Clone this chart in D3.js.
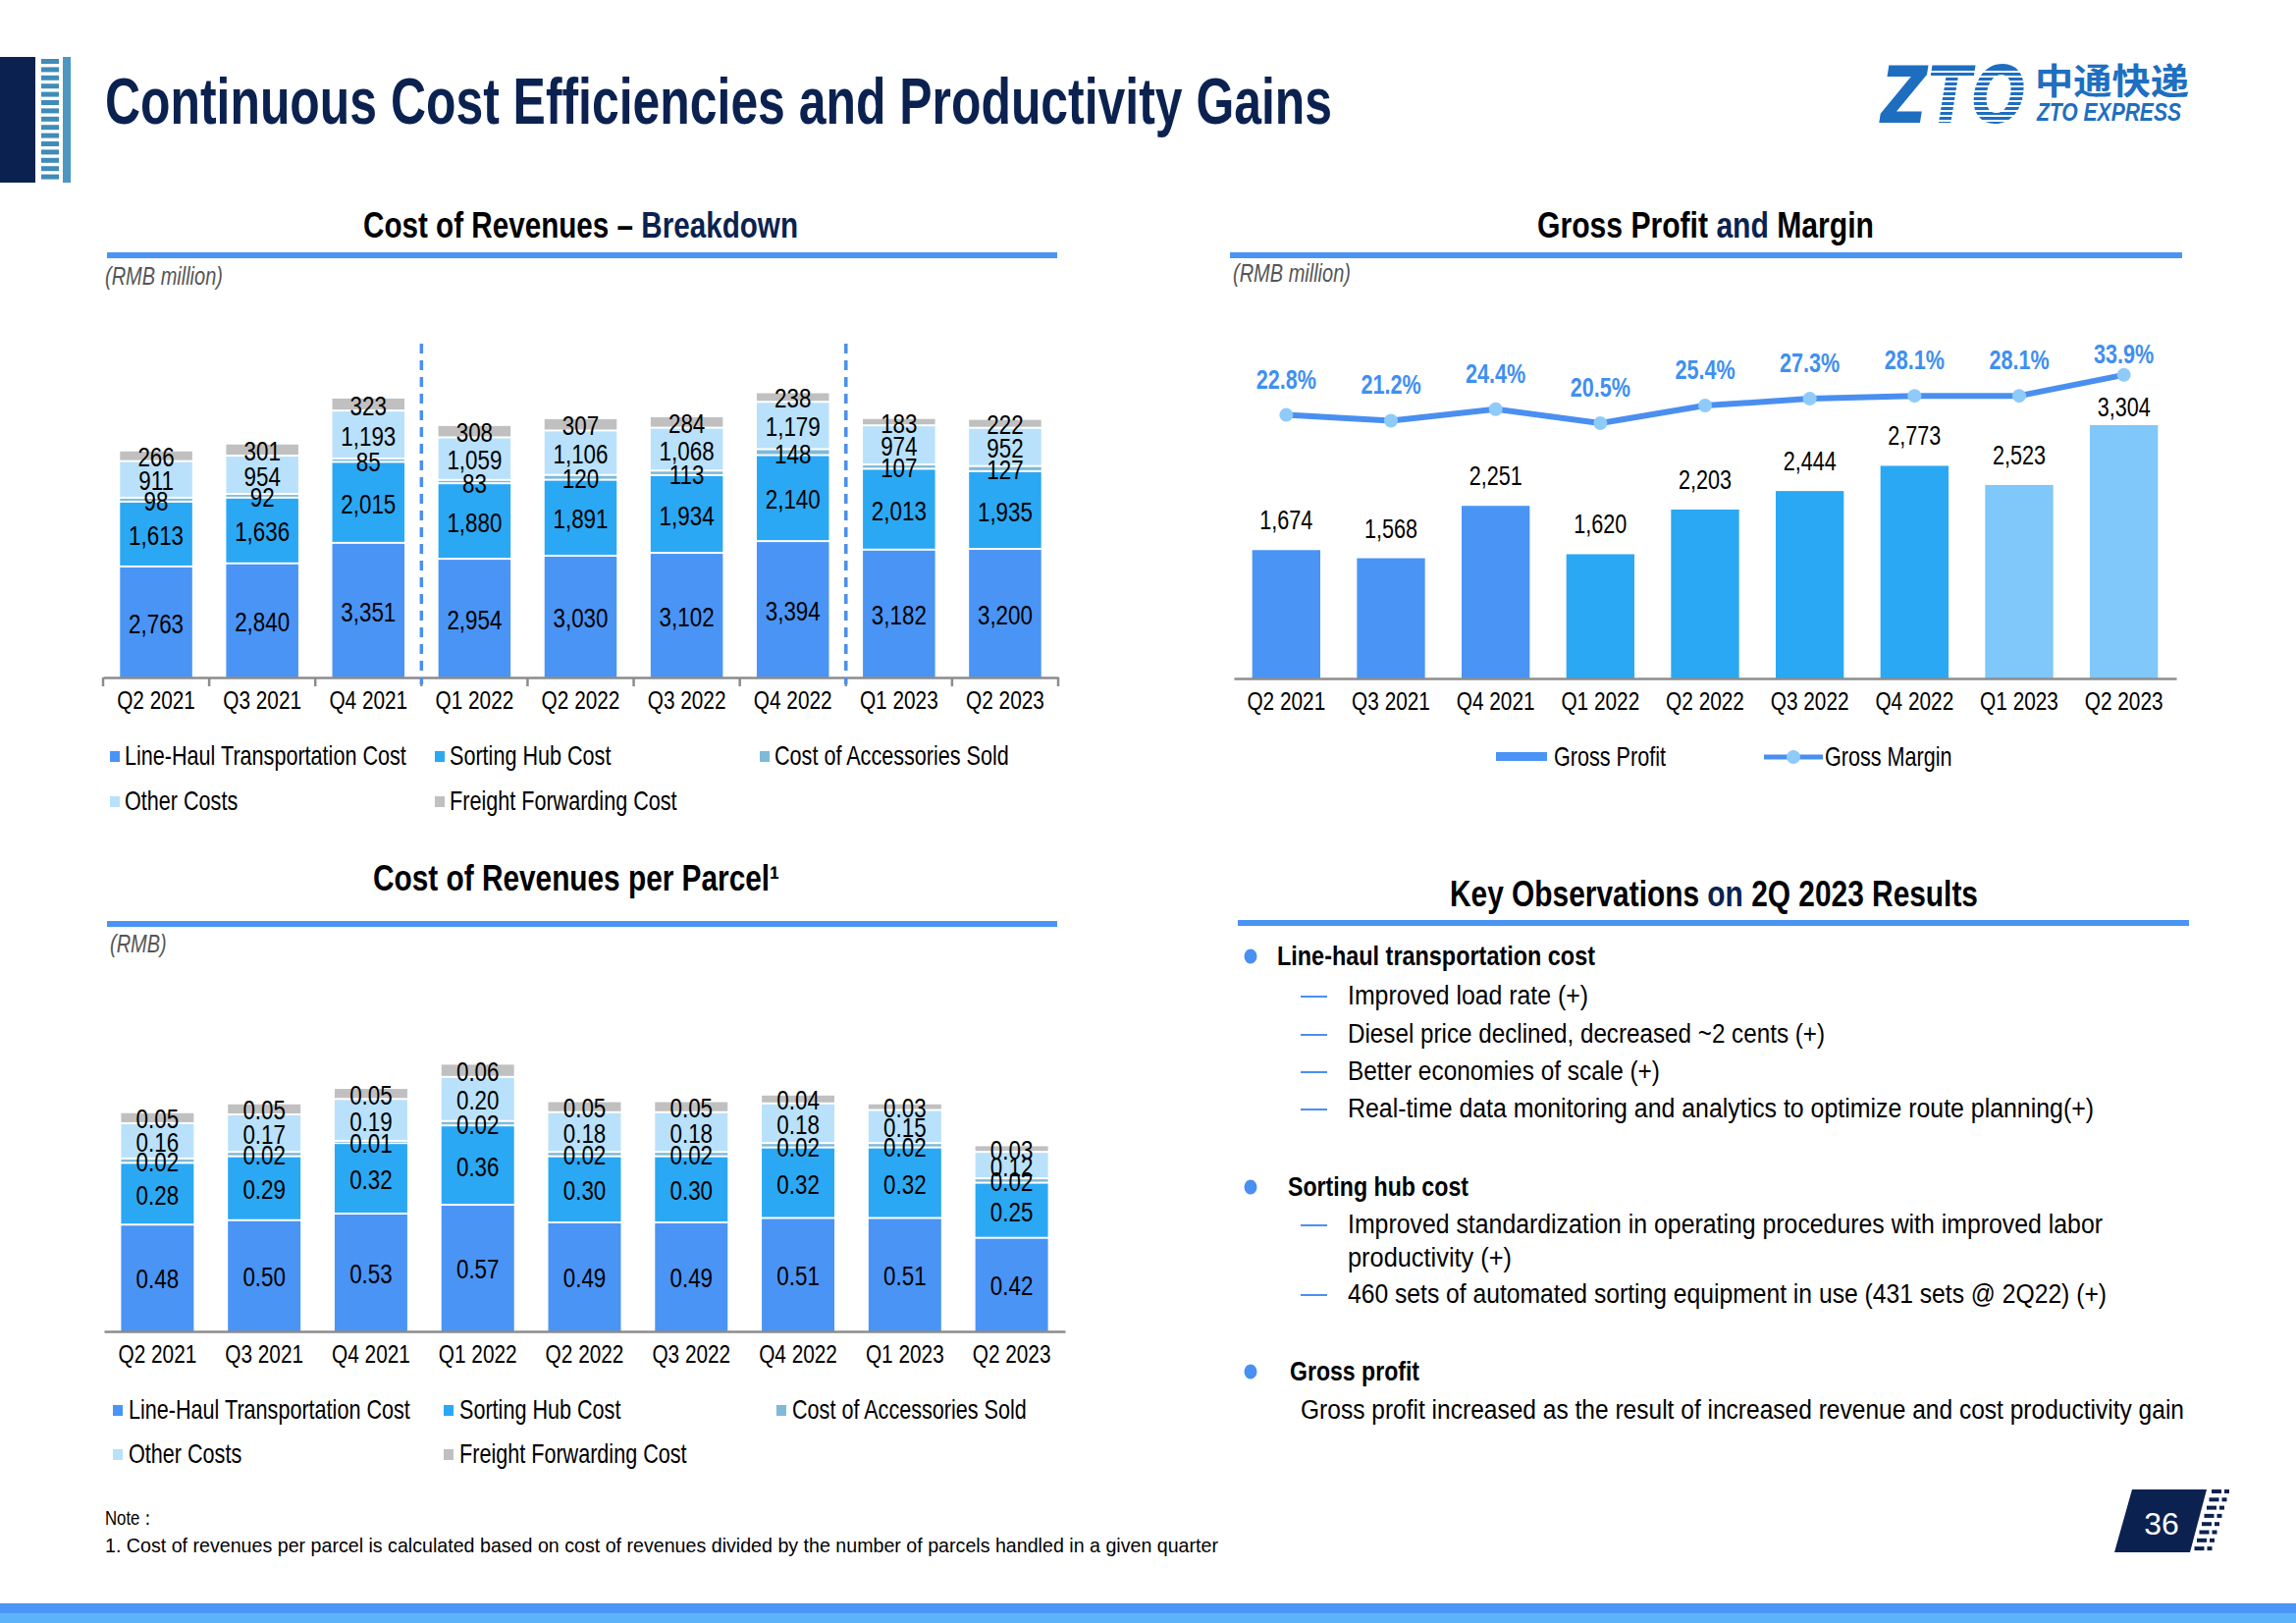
<!DOCTYPE html>
<html>
<head>
<meta charset="utf-8">
<script src="https://cdn.jsdelivr.net/npm/d3@7"></script>
<style>html,body{margin:0;padding:0;background:#fff;}</style>
</head>
<body>
<script>
// ---- data ----
const quarters = ["Q2 2021", "Q3 2021", "Q4 2021", "Q1 2022", "Q2 2022", "Q3 2022", "Q4 2022", "Q1 2023", "Q2 2023"];

const seriesKeys = ["lineHaul", "sortingHub", "accessories", "otherCosts", "freight"];
const seriesNames = ["Line-Haul Transportation Cost", "Sorting Hub Cost", "Cost of Accessories Sold", "Other Costs", "Freight Forwarding Cost"];

// cost of revenues, RMB million
const lineHaul = [2763, 2840, 3351, 2954, 3030, 3102, 3394, 3182, 3200];
const sortingHub = [1613, 1636, 2015, 1880, 1891, 1934, 2140, 2013, 1935];
const accessories = [98, 92, 85, 83, 120, 113, 148, 107, 127];
const otherCosts = [911, 954, 1193, 1059, 1106, 1068, 1179, 974, 952];
const freight = [266, 301, 323, 308, 307, 284, 238, 183, 222];

// cost of revenues per parcel, RMB
const lineHaulPP = [0.48, 0.50, 0.53, 0.57, 0.49, 0.49, 0.51, 0.51, 0.42];
const sortingHubPP = [0.28, 0.29, 0.32, 0.36, 0.30, 0.30, 0.32, 0.32, 0.25];
const accessoriesPP = [0.02, 0.02, 0.01, 0.02, 0.02, 0.02, 0.02, 0.02, 0.02];
const otherCostsPP = [0.16, 0.17, 0.19, 0.20, 0.18, 0.18, 0.18, 0.15, 0.12];
const freightPP = [0.05, 0.05, 0.05, 0.06, 0.05, 0.05, 0.04, 0.03, 0.03];

// gross profit (RMB million) and margin (%)
const grossProfit = [1674, 1568, 2251, 1620, 2203, 2444, 2773, 2523, 3304];
const grossMargin = [22.8, 21.2, 24.4, 20.5, 25.4, 27.3, 28.1, 28.1, 33.9];

const periodBreaks = ["Q1 2022", "Q1 2023"];

// ---- setup ----
const W = 2339, H = 1653;
const FONT = '"Liberation Sans", Arial, sans-serif';
const NARROW = 0.8; // Liberation Sans squeezed to an Arial Narrow look
const NAVY = "#0b2250", BLUE = "#4a94f5";
const seriesColors = ["#4a94f5", "#2ba8f3", "#7fbad9", "#b9e1fb", "#c0c0c0"];
const yearColor = {"2021": "#4a94f5", "2022": "#2ba8f3", "2023": "#80c7fa"};

const svg = d3.select("body").append("svg")
    .attr("width", W).attr("height", H)
    .attr("viewBox", [0, 0, W, H])
    .style("font-family", FONT);

svg.append("rect").attr("width", W).attr("height", H).attr("fill", "#fff");

function txt(g, x, y, s, o = {}) {
  const t = g.append("text")
      .attr("x", x).attr("y", y)
      .attr("font-size", o.size || 24)
      .attr("font-weight", o.weight || null)
      .attr("font-style", o.italic ? "italic" : null)
      .attr("font-family", o.family || null)
      .attr("fill", o.fill || "#000")
      .attr("text-anchor", o.anchor || "start")
      .text(s);
  if (o.width) t.attr("textLength", o.width).attr("lengthAdjust", "spacingAndGlyphs");
  if (o.wide) t.classed("wide", true);
  return t;
}

function heading(x, y, parts, width, size) {
  const t = svg.append("text")
      .attr("x", x).attr("y", y)
      .attr("font-size", size)
      .attr("font-weight", "bold")
      .attr("textLength", width).attr("lengthAdjust", "spacingAndGlyphs");
  parts.forEach(([s, c]) => t.append("tspan").attr("fill", c).text(s));
}

// ---- page header ----
svg.append("rect").attr("x", 0).attr("y", 58).attr("width", 36).attr("height", 128).attr("fill", NAVY);
svg.append("g").attr("fill", "#3f8cb9")
  .selectAll("rect").data(d3.range(15)).join("rect")
    .attr("x", 42).attr("y", i => 60 + i * 8.4).attr("width", 18).attr("height", 5);
svg.append("rect").attr("x", 64).attr("y", 58).attr("width", 8).attr("height", 128).attr("fill", "#4b97c2");

txt(svg, 107, 126, "Continuous Cost Efficiencies and Productivity Gains",
    {size: 66, weight: "bold", fill: NAVY, width: 1250});

// logo
const logo = svg.append("g");
txt(logo, 1916, 125, "ZTO", {size: 80, weight: "bold", italic: true, family: "DejaVu Sans", fill: "#1e6ec0", width: 148});
logo.append("g").attr("stroke", "#fff").attr("stroke-width", 2)
  .selectAll("line").data(d3.range(11)).join("line")
    .attr("x1", 1966).attr("x2", 2066)
    .attr("y1", i => 73 + i * 5).attr("y2", i => 73 + i * 5);
txt(logo, 2073, 96, "中通快递", {size: 36, weight: "bold", family: "Noto Sans CJK SC", fill: "#1f6fc0", width: 157});
txt(logo, 2075, 123, "ZTO EXPRESS", {size: 26, weight: "bold", italic: true, fill: "#1f6fc0", width: 147});

// ---- section titles ----
heading(370, 242, [["Cost of Revenues – ", "#000"], ["Breakdown", NAVY]], 443, 36);
svg.append("rect").attr("x", 109).attr("y", 257).attr("width", 968).attr("height", 6).attr("fill", BLUE);
txt(svg, 107, 290, "(RMB million)", {size: 25, italic: true, fill: "#555"});

heading(1566, 242, [["Gross Profit ", "#000"], ["and", NAVY], [" Margin", "#000"]], 343, 36);
svg.append("rect").attr("x", 1253).attr("y", 257).attr("width", 970).attr("height", 6).attr("fill", BLUE);
txt(svg, 1256, 287, "(RMB million)", {size: 25, italic: true, fill: "#555"});

heading(380, 907, [["Cost of Revenues per Parcel¹", "#000"]], 414, 36);
svg.append("rect").attr("x", 109).attr("y", 938).attr("width", 968).attr("height", 6).attr("fill", BLUE);
txt(svg, 112, 970, "(RMB)", {size: 25, italic: true, fill: "#555"});

heading(1477, 923, [["Key Observations ", "#000"], ["on", NAVY], [" 2Q 2023 Results", "#000"]], 538, 36);
svg.append("rect").attr("x", 1261).attr("y", 937).attr("width", 969).attr("height", 6).attr("fill", BLUE);

// ---- stacked bar charts ----
function stackedChart({table, x, y, fmt, axisY, boundaryTicks, breaks, breakTop}) {
  const g = svg.append("g");
  const layers = d3.stack().keys(seriesKeys)(table);
  const gap = 2;

  layers.forEach((layer, li) => {
    g.append("g").attr("fill", seriesColors[li])
      .selectAll("rect").data(layer).join("rect")
        .attr("x", d => x(d.data.q))
        .attr("width", x.bandwidth())
        .attr("y", d => y(d[1]))
        .attr("height", d => Math.max(0.8, y(d[0]) - y(d[1]) - (li ? gap : 0)));
  });

  layers.forEach(layer => {
    g.append("g").attr("font-size", 28).attr("text-anchor", "middle")
      .selectAll("text").data(layer).join("text")
        .attr("x", d => x(d.data.q) + x.bandwidth() / 2)
        .attr("y", d => (y(d[0]) + y(d[1])) / 2)
        .attr("dy", "0.36em")
        .text(d => fmt(d.data[layer.key]));
  });

  const ax = g.append("g")
      .attr("transform", `translate(0,${axisY})`)
      .call(d3.axisBottom(x).tickSize(0).tickSizeOuter(0).tickPadding(14));
  ax.attr("font-family", FONT).attr("font-size", 26);
  ax.select(".domain").attr("stroke", "#8c8c8c").attr("stroke-width", 2.5);
  ax.selectAll("text").attr("fill", "#000");

  const edge = q => x(q) - (x.step() - x.bandwidth()) / 2;
  if (boundaryTicks) {
    const x0 = edge(quarters[0]);
    g.append("g").attr("stroke", "#8c8c8c").attr("stroke-width", 2.5)
      .selectAll("line").data(d3.range(quarters.length + 1)).join("line")
        .attr("x1", i => x0 + i * x.step()).attr("x2", i => x0 + i * x.step())
        .attr("y1", axisY).attr("y2", axisY + 9);
  }
  if (breaks) {
    g.append("g").attr("stroke", "#4a8ff0").attr("stroke-width", 3.5).attr("stroke-dasharray", "10,7")
      .selectAll("line").data(breaks).join("line")
        .attr("x1", d => edge(d)).attr("x2", d => edge(d))
        .attr("y1", breakTop).attr("y2", axisY + 7);
  }
}

const costTable = quarters.map((q, i) => ({
  q, lineHaul: lineHaul[i], sortingHub: sortingHub[i], accessories: accessories[i],
  otherCosts: otherCosts[i], freight: freight[i]
}));
const perParcelTable = quarters.map((q, i) => ({
  q, lineHaul: lineHaulPP[i], sortingHub: sortingHubPP[i], accessories: accessoriesPP[i],
  otherCosts: otherCostsPP[i], freight: freightPP[i]
}));

const xCost = d3.scaleBand().domain(quarters).range([105, 1078]).paddingInner(0.32).paddingOuter(0.16);
const yCost = d3.scaleLinear().domain([0, 7100]).range([691, 691 - 7100 * 0.04092]);
stackedChart({table: costTable, x: xCost, y: yCost, fmt: d3.format(","), axisY: 690,
  boundaryTicks: true, breaks: periodBreaks, breakTop: 350});

const xPP = d3.scaleBand().domain(quarters).range([106, 1085]).paddingInner(0.32).paddingOuter(0.16);
const yPP = d3.scaleLinear().domain([0, 1.25]).range([1356, 1356 - 1.25 * 224.5]);
stackedChart({table: perParcelTable, x: xPP, y: yPP, fmt: d3.format(".2f"), axisY: 1356,
  boundaryTicks: false});

// legends for stacked charts
function stackLegend(cols, rows, markerOffset) {
  const pos = [[0, 0], [1, 0], [2, 0], [0, 1], [1, 1]];
  const g = svg.append("g").attr("font-size", 27);
  seriesNames.forEach((name, i) => {
    const [c, r] = pos[i];
    g.append("rect").attr("x", cols[c]).attr("y", rows[r] - 14).attr("width", 10).attr("height", 11)
      .attr("fill", seriesColors[i]);
    g.append("text").attr("x", cols[c] + markerOffset).attr("y", rows[r]).text(name);
  });
}
stackLegend([112, 443, 774], [779, 825], 15);
stackLegend([115, 452, 791], [1445, 1490], 16);

// ---- gross profit & margin ----
const gp = svg.append("g");
const xGP = d3.scaleBand().domain(quarters).range([1257, 2217]).paddingInner(0.35).paddingOuter(0.175);
const yGP = d3.scaleLinear().domain([0, 3500]).range([691, 691 - 3500 * 0.0781]);
const yGM = d3.scaleLinear().domain([20, 35]).range([432.9, 432.9 - 15 * 3.672]);
const cx = q => xGP(q) + xGP.bandwidth() / 2;

gp.append("g").selectAll("rect").data(quarters).join("rect")
    .attr("x", q => xGP(q))
    .attr("width", xGP.bandwidth())
    .attr("y", (q, i) => yGP(grossProfit[i]))
    .attr("height", (q, i) => yGP(0) - yGP(grossProfit[i]))
    .attr("fill", q => yearColor[q.slice(-4)]);

gp.append("g").attr("font-size", 27).attr("text-anchor", "middle")
  .selectAll("text").data(quarters).join("text")
    .attr("x", cx)
    .attr("y", (q, i) => Math.max(yGP(grossProfit[i]) - 21, yGM(grossMargin[i]) + 42))
    .text((q, i) => d3.format(",")(grossProfit[i]));

const axGP = gp.append("g")
    .attr("transform", "translate(0,691)")
    .call(d3.axisBottom(xGP).tickSize(0).tickSizeOuter(0).tickPadding(14));
axGP.attr("font-family", FONT).attr("font-size", 26);
axGP.select(".domain").attr("stroke", "#8c8c8c").attr("stroke-width", 2.5);
axGP.selectAll("text").attr("fill", "#000");

gp.append("path")
    .datum(quarters)
    .attr("fill", "none")
    .attr("stroke", "#4a8ff0")
    .attr("stroke-width", 6)
    .attr("stroke-linejoin", "round")
    .attr("d", d3.line().x(cx).y((q, i) => yGM(grossMargin[i])));

gp.append("g").attr("fill", "#8fcbf9")
  .selectAll("circle").data(quarters).join("circle")
    .attr("cx", cx)
    .attr("cy", (q, i) => yGM(grossMargin[i]))
    .attr("r", 7);

gp.append("g").attr("font-size", 27).attr("font-weight", "bold").attr("fill", "#3f8ff0")
    .attr("text-anchor", "middle")
  .selectAll("text").data(quarters).join("text")
    .attr("x", cx)
    .attr("y", (q, i) => Math.max(yGM(grossMargin[i]) - 27, 370))
    .text((q, i) => grossMargin[i].toFixed(1) + "%");

// legend
const lg = svg.append("g").attr("font-size", 27);
lg.append("rect").attr("x", 1524).attr("y", 766).attr("width", 52).attr("height", 9).attr("fill", BLUE);
lg.append("text").attr("x", 1583).attr("y", 780).text("Gross Profit");
lg.append("line").attr("x1", 1797).attr("x2", 1857).attr("y1", 771).attr("y2", 771)
  .attr("stroke", "#4a8ff0").attr("stroke-width", 5);
lg.append("circle").attr("cx", 1827).attr("cy", 771).attr("r", 7).attr("fill", "#8fcbf9");
lg.append("text").attr("x", 1859).attr("y", 780).text("Gross Margin");

// ---- key observations ----
const obs = svg.append("g");
function bullet(y, s, x, w) {
  obs.append("ellipse").attr("cx", 1274).attr("cy", y - 9).attr("rx", 6.5).attr("ry", 7.5).attr("fill", "#4a8ff2");
  txt(obs, x, y, s, {size: 27, weight: "bold", width: w});
}
function sub(y, s, w, dash = true) {
  if (dash) obs.append("line").attr("x1", 1325).attr("x2", 1352).attr("y1", y - 8).attr("y2", y - 8)
    .attr("stroke", "#4a8ff2").attr("stroke-width", 2);
  txt(obs, 1373, y, s, {size: 27, width: w});
}
bullet(983, "Line-haul transportation cost", 1301, 324);
sub(1023, "Improved load rate (+)", 245);
sub(1062, "Diesel price declined, decreased ~2 cents (+)", 486);
sub(1100, "Better economies of scale (+)", 318);
sub(1138, "Real-time data monitoring and analytics to optimize route planning(+)", 760);
bullet(1218, "Sorting hub cost", 1312, 184);
sub(1256, "Improved standardization in operating procedures with improved labor", 769);
sub(1290, "productivity (+)", 167, false);
sub(1327, "460 sets of automated sorting equipment in use (431 sets @ 2Q22) (+)", 773);
bullet(1406, "Gross profit", 1314, 132);
txt(obs, 1325, 1445, "Gross profit increased as the result of increased revenue and cost productivity gain", {size: 27, width: 900});

// ---- footer ----
txt(svg, 107, 1553, "Note：", {size: 21});
txt(svg, 107, 1581, "1.  Cost of revenues per parcel is calculated based on cost of revenues divided by the number of parcels handled in a given quarter",
    {size: 21, width: 1134});

svg.append("polygon").attr("points", "2172,1517 2248,1517 2231,1581 2154,1581").attr("fill", NAVY);
txt(svg, 2202, 1563, "36", {size: 32, fill: "#fff", anchor: "middle", wide: true});
svg.append("g").attr("fill", NAVY)
  .selectAll("g").data(d3.range(8)).join("g")
    .attr("transform", i => `translate(${-i * 2.5},${1517 + i * 8.3})`)
    .call(s => {
      s.append("rect").attr("x", 2253).attr("y", 0).attr("width", 10).attr("height", 4);
      s.append("rect").attr("x", 2266).attr("y", 0).attr("width", 5).attr("height", 4);
    });

svg.append("rect").attr("x", 0).attr("y", 1633).attr("width", W).attr("height", 10).attr("fill", "#4a95f5");
svg.append("rect").attr("x", 0).attr("y", 1643).attr("width", W).attr("height", 10).attr("fill", "#5cb3f9");

// squeeze every free-width text horizontally, like the narrow face of the slide
svg.selectAll("text").each(function() {
  const t = d3.select(this);
  if (t.attr("textLength") || t.classed("wide")) return;
  const x = +t.attr("x") || 0, y = +t.attr("y") || 0;
  t.attr("x", 0).attr("y", 0).attr("transform", `translate(${x},${y}) scale(${NARROW},1)`);
});
</script>
</body>
</html>
